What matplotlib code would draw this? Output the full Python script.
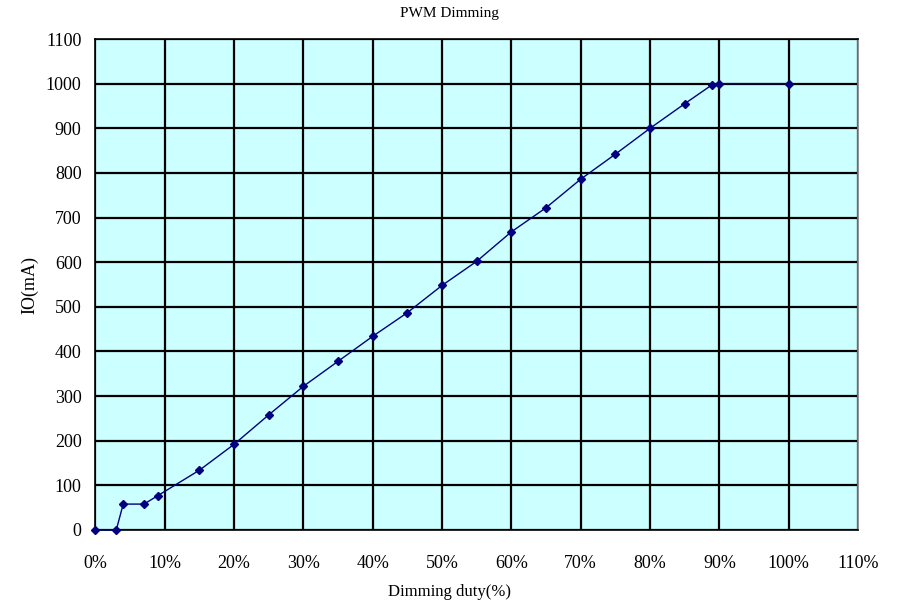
import matplotlib
matplotlib.use("Agg")
import matplotlib.pyplot as plt
from matplotlib.ticker import FuncFormatter

# duty cycle (%) vs output current (mA)
duty = [0, 3, 4, 7, 9, 15, 20, 25, 30, 35, 40, 45, 50, 55, 60, 65, 70, 75, 80, 85, 89, 90, 100]
current = [0, 0, 58, 58, 77, 134, 192, 258, 322, 378, 434, 487, 548, 602, 668, 722, 786, 842, 900, 955, 998, 1000, 1000]

x_ticks = list(range(0, 111, 10))
y_ticks = list(range(0, 1101, 100))

plt.rcParams['font.family'] = ['Liberation Serif', 'DejaVu Serif']

fig = plt.figure(figsize=(8.99, 6.03), dpi=100)
ax = fig.add_axes([0.1062, 0.1211, 0.8482, 0.8142])
ax.set_facecolor('#CCFFFF')

ax.plot(duty, current, color='#000080', linewidth=1, marker='D', markersize=4.5,
        markerfacecolor='#000080', markeredgecolor='#000080', clip_on=False, zorder=3)

ax.set_xlim(0, 110)
ax.set_ylim(0, 1100)
ax.set_xticks(x_ticks)
ax.set_yticks(y_ticks)
ax.xaxis.set_major_formatter(FuncFormatter(lambda v, p: f"{int(v)}%"))
ax.grid(True, color='black', linewidth=1.6, zorder=1)
ax.set_axisbelow(True)
ax.tick_params(length=0, labelsize=13)
ax.tick_params(axis='x', pad=18)
ax.tick_params(axis='y', pad=10)

for side in ['left', 'bottom', 'top']:
    ax.spines[side].set_color('black')
    ax.spines[side].set_linewidth(1.2)
ax.spines['right'].set_color('#808080')
ax.spines['right'].set_linewidth(1.2)

fig.text(0.4995, 1 - 13 / 603, "PWM Dimming", fontsize=11, ha='center', va='center')
fig.text(0.4995, 1 - 592 / 603, "Dimming duty(%)", fontsize=12, ha='center', va='center')
fig.text(30 / 899, 1 - 285 / 603, "IO(mA)", fontsize=13, ha='center', va='center', rotation=90)

plt.savefig("out.png", dpi=100)
